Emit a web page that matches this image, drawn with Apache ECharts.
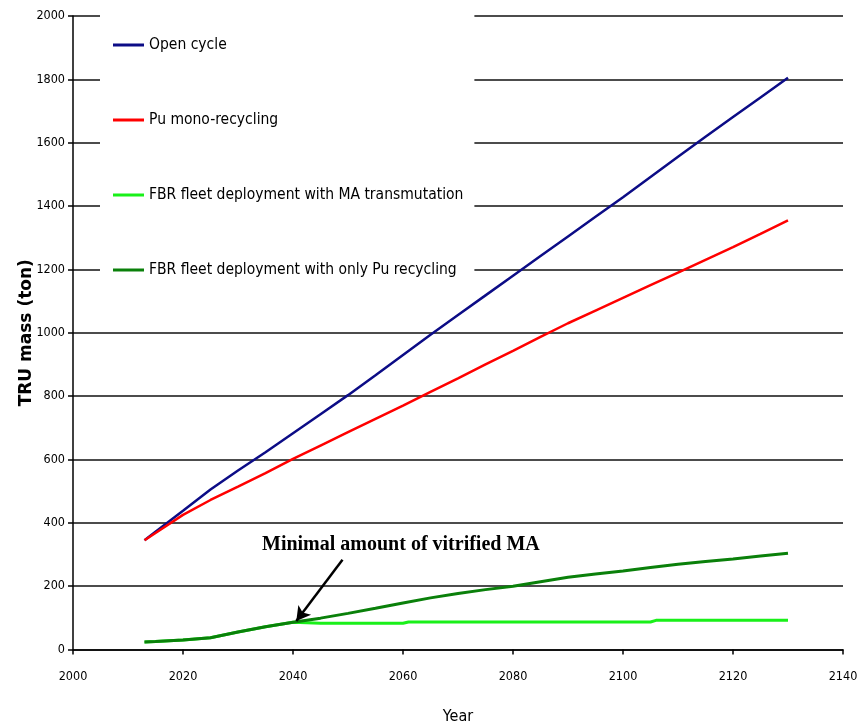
<!DOCTYPE html>
<html>
<head>
<meta charset="utf-8">
<script src="https://cdn.jsdelivr.net/npm/echarts@6/dist/echarts.min.js"></script>
<style>
html,body{margin:0;padding:0;background:#fff;}
#c{width:863px;height:726px;}
</style>
</head>
<body>
<div id="c"></div>
<script>
// ---- data ----
const seriesNames = [
  'Open cycle',
  'Pu mono-recycling',
  'FBR fleet deployment with MA transmutation',
  'FBR fleet deployment with only Pu recycling'
];
const years = [2013, 2015, 2020, 2025, 2030, 2035, 2040, 2045, 2050, 2055, 2060, 2065, 2070, 2075, 2080, 2085, 2090, 2095, 2100, 2105, 2110, 2115, 2120, 2125, 2130];
const openCycle = [345, 372, 438, 505, 565, 623, 683, 743, 803, 866, 930, 994, 1056, 1118, 1180, 1242, 1304, 1366, 1428, 1492, 1556, 1619, 1681, 1743, 1805];
const puMono = [345, 368, 425, 472, 514, 557, 602, 644, 686, 728, 770, 813, 856, 900, 943, 987, 1030, 1070, 1110, 1150, 1190, 1230, 1270, 1312, 1355];
const fbrOnlyPu = [24, 25, 30, 37, 55, 72, 86, 99, 114, 130, 147, 163, 177, 189, 200, 214, 228, 238, 248, 259, 269, 278, 286, 295, 304];
const maYears = [2013, 2015, 2020, 2025, 2030, 2035, 2040, 2045, 2060, 2061, 2105, 2106, 2130];
const fbrMA = [24, 25, 30, 37, 55, 72, 86, 83, 83, 87, 87, 92, 92];
const annotationText = 'Minimal amount of vitrified MA';
const arrowFrom = [2049, 283];
const arrowTo = [2040.6, 90];

const narrow = "'DejaVu Sans Condensed','Liberation Sans Narrow','Arial Narrow',sans-serif";
const pairs = (xs, ys) => xs.map((x, i) => [x, ys[i]]);

const chart = echarts.init(document.getElementById('c'), null, {renderer: 'canvas'});
chart.setOption({
  animation: false,
  backgroundColor: '#ffffff',
  grid: {left: 73, right: 20, top: 16, bottom: 76.5, containLabel: false, outerBoundsMode: 'none'},
  legend: {
    orient: 'vertical',
    left: 100,
    top: 10,
    padding: [25, 11, 12, 13],
    itemGap: 55,
    itemWidth: 31,
    itemHeight: 3,
    icon: 'rect',
    backgroundColor: '#ffffff',
    z: 1,
    textStyle: {fontFamily: narrow, fontSize: 15.5, color: '#000', lineHeight: 20},
    data: seriesNames
  },
  xAxis: {
    type: 'value',
    min: 2000, max: 2140, interval: 20,
    name: 'Year',
    nameLocation: 'middle',
    nameGap: 59,
    nameMoveOverlap: false,
    nameTextStyle: {fontFamily: narrow, fontSize: 16, color: '#000'},
    axisLine: {show: true, lineStyle: {color: '#000', width: 1.5}},
    axisTick: {show: true, length: 5, lineStyle: {color: '#000', width: 1.5}},
    axisLabel: {fontFamily: narrow, fontSize: 12.5, color: '#000', margin: 21, formatter: v => String(v)},
    splitLine: {show: false}
  },
  yAxis: {
    type: 'value',
    min: 0, max: 2000, interval: 200,
    name: 'TRU mass (ton)',
    nameLocation: 'middle',
    nameGap: 38,
    nameMoveOverlap: false,
    nameTextStyle: {fontFamily: "'DejaVu Sans',sans-serif", fontWeight: 'bold', fontSize: 17, color: '#000'},
    axisLine: {show: true, lineStyle: {color: '#000', width: 1.5}},
    axisTick: {show: true, length: 5, lineStyle: {color: '#000', width: 1.5}},
    axisLabel: {fontFamily: narrow, fontSize: 12.5, color: '#000', margin: 8, formatter: v => String(v)},
    splitLine: {show: true, lineStyle: {color: '#111', width: 1.5}}
  },
  series: [
    {
      name: seriesNames[0], type: 'line', showSymbol: false, symbol: 'none',
      lineStyle: {color: '#0c0c86', width: 2.5}, itemStyle: {color: '#0c0c86'},
      data: pairs(years, openCycle), z: 3
    },
    {
      name: seriesNames[1], type: 'line', showSymbol: false, symbol: 'none',
      lineStyle: {color: '#ff0000', width: 2.5}, itemStyle: {color: '#ff0000'},
      data: pairs(years, puMono), z: 3
    },
    {
      name: seriesNames[2], type: 'line', showSymbol: false, symbol: 'none',
      lineStyle: {color: '#19f019', width: 3}, itemStyle: {color: '#19f019'},
      data: pairs(maYears, fbrMA), z: 3
    },
    {
      name: seriesNames[3], type: 'line', showSymbol: false, symbol: 'none',
      lineStyle: {color: '#0a800a', width: 3}, itemStyle: {color: '#0a800a'},
      data: pairs(years, fbrOnlyPu), z: 4,
      markLine: {
        silent: true,
        symbol: ['none', 'arrow'],
        symbolSize: [12, 14],
        lineStyle: {color: '#000', width: 2.5, type: 'solid'},
        label: {show: false},
        data: [[{coord: arrowFrom}, {coord: arrowTo}]]
      }
    }
  ],
  graphic: [
    {
      type: 'text',
      z: 20,
      style: {
        text: annotationText,
        x: 262, y: 545,
        verticalAlign: 'middle',
        font: "bold 20px 'Liberation Serif','Times New Roman',serif",
        fill: '#000'
      }
    }
  ]
});
</script>
</body>
</html>
